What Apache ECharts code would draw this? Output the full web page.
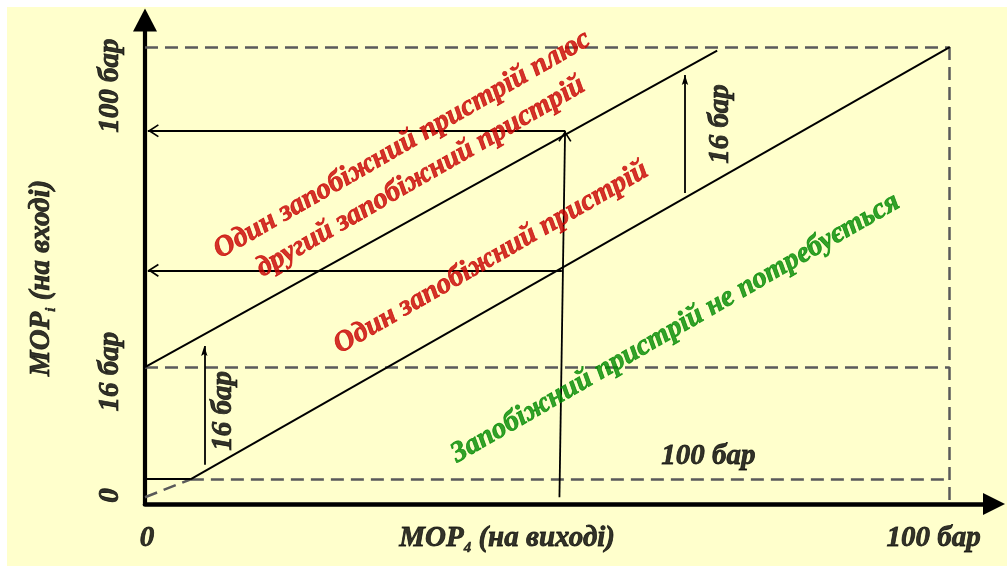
<!DOCTYPE html>
<html>
<head>
<meta charset="utf-8">
<script src="https://cdn.jsdelivr.net/npm/echarts@6/dist/echarts.min.js"></script>
<style>
html,body{margin:0;padding:0;background:#ffffff;}
#main{width:1007px;height:571px;}
</style>
</head>
<body>
<div id="main"></div>
<script>
// ---------- data (schematic units, 100 = 100 бар) ----------
const maxInletLine   = [[0, 100], [100, 100]];
const maxOutletLine  = [[100, 100], [100, -1.5]];
const level16Line    = [[0, 28.9], [100, 28.9]];
const lowLineSolid   = [[0, 4.0], [5.7, 4.0]];
const lowLineDashed  = [[5.7, 4.0], [100, 4.0]];
const originDashed   = [[0, 0], [5.7, 4.0]];
const lowerBoundary  = [[5.7, 4.0], [100, 100]];
const upperBoundary  = [[0, 28.9], [71.1, 99.2]];
const readoutUp      = [[51.5, 0], [52.2, 81.4]];
const readoutHigh    = [[52.2, 81.4], [0.35, 81.4]];
const readoutMid     = [[51.8, 50.4], [0.35, 50.4]];
const step16Right    = [[67.1, 67.6], [67.1, 93.8]];
const step16Left     = [[7.37, 7.2], [7.37, 33.6]];

const yTickLabels = ['0', '16 бар', '100 бар'];
const yTickAt     = [[-4.3, 0.4], [-4.3, 27.9], [-4.3, 91.4]];
const xTickLabels = ['0', '100 бар'];
const xTickAt     = [[0.25, -9.15], [98.0, -9.15]];
const stepLabels  = ['16 бар', '16 бар', '100 бар'];
const stepLabelAt = [[9.8, 19.2], [71.5, 82.9], [70.0, 9.06]];
const xTitle   = '{m|MOP}{s|4}{m| (на виході)}';
const xTitleAt = [45.0, -9.15];
const yTitle   = '{m|MOP}{s|i}{m| (на вході)}';
const yTitleAt = [-12.8, 48.7];
const zoneLabels  = ['Один запобіжний пристрій плюс\nдругий запобіжний пристрій',
                     'Один запобіжний пристрій',
                     'Запобіжний пристрій не потребується'];
const zoneLabelAt = [[33.1, 74.7], [43.0, 53.2], [65.9, 37.6]];

// ---------- styles ----------
const FONT = "'Liberation Serif','Times New Roman',serif";
const DASH = {color: '#5a5a5a', width: 2.5, type: [13, 7]};
const SOLID = {color: '#000', width: 2, type: 'solid'};
const THIN = {color: '#000', width: 1.8, type: 'solid'};
// symbols: tip at the centre of the bounding box so the tip sits on the line end
const CHEVRON = 'path://M0,0 L0.01,0 Z M22,22 L21.99,22 Z M11,11 L17.6,21.3 L16.2,22.2 L11,14.2 L5.8,22.2 L4.4,21.3 Z';
const NEEDLE  = 'path://M0,0 L0.01,0 Z M20,20 L19.99,20 Z M10,10 L13.2,20 L10,18 L6.8,20 Z';

function seg(coords, style, sym, size) {
  return {
    type: 'lines', coordinateSystem: 'cartesian2d', silent: true, animation: false, z: 3,
    symbol: sym ? ['none', sym] : ['none', 'none'],
    symbolSize: sym ? [0, size] : 0,
    lineStyle: Object.assign({opacity: 1, curveness: 0}, style),
    data: [{coords: coords}]
  };
}

function textSeries(points, texts, labelOpt) {
  const col = (labelOpt && labelOpt.color) || '#000';
  return {
    type: 'scatter', silent: true, animation: false, clip: false, z: 6,
    symbolSize: 1, itemStyle: {color: 'rgba(0,0,0,0)'},
    data: points.map((p, i) => ({value: p, name: texts[i]})),
    label: Object.assign({
      show: true, position: 'inside', formatter: '{b}',
      fontFamily: FONT, fontWeight: 'bold', fontStyle: 'italic', fontSize: 29,
      color: col, textBorderColor: col, textBorderWidth: 0.8,
      align: 'center', verticalAlign: 'middle'
    }, labelOpt)
  };
}

const richTitle = {
  m: {fontFamily: FONT, fontWeight: 'bold', fontStyle: 'italic', fontSize: 29, color: '#000',
      textBorderColor: '#000', textBorderWidth: 0.8, lineHeight: 34},
  s: {fontFamily: FONT, fontWeight: 'bold', fontStyle: 'italic', fontSize: 15, color: '#000',
      textBorderColor: '#000', textBorderWidth: 0.5, lineHeight: 14, verticalAlign: 'bottom'}
};

const chart = echarts.init(document.getElementById('main'), null, {renderer: 'canvas'});
chart.setOption({
  animation: false,
  backgroundColor: '#ffffff',
  graphic: [{type: 'rect', z: -100, silent: true, shape: {x: 7, y: 7, width: 1000, height: 559}, style: {fill: '#FFFFCC'}}],
  grid: {left: 145, right: 13, top: 20, bottom: 67, outerBoundsMode: 'none', containLabel: false},
  xAxis: {
    type: 'value', min: 0, max: 105.5,
    axisLine: {show: true, onZero: false, symbol: ['none', 'triangle'], symbolSize: [22, 22],
      lineStyle: {color: '#000', width: 4.5}},
    axisTick: {show: false}, axisLabel: {show: false}, splitLine: {show: false}
  },
  yAxis: {
    type: 'value', min: -1.5, max: 106,
    axisLine: {show: true, onZero: false, symbol: ['none', 'triangle'], symbolSize: [24, 23],
      lineStyle: {color: '#000', width: 4.2, cap: 'square'}},
    axisTick: {show: false}, axisLabel: {show: false}, splitLine: {show: false}
  },
  series: [
    seg(maxInletLine, DASH),
    seg(maxOutletLine, DASH),
    seg(level16Line, DASH),
    seg(lowLineDashed, DASH),
    seg(originDashed, DASH),
    seg(lowLineSolid, SOLID),
    seg(lowerBoundary, SOLID),
    seg(upperBoundary, SOLID),
    seg(readoutUp, THIN, CHEVRON, 22),
    seg(readoutHigh, THIN, CHEVRON, 22),
    seg(readoutMid, THIN, CHEVRON, 22),
    seg(step16Right, THIN, NEEDLE, 20),
    seg(step16Left, THIN, NEEDLE, 20),
    textSeries(yTickAt, yTickLabels, {rotate: 90}),
    textSeries(xTickAt, xTickLabels, {}),
    textSeries([stepLabelAt[0], stepLabelAt[1]], [stepLabels[0], stepLabels[1]], {rotate: 90}),
    textSeries([stepLabelAt[2]], [stepLabels[2]], {}),
    textSeries([xTitleAt], [xTitle], {formatter: xTitle, rich: richTitle}),
    textSeries([yTitleAt], [yTitle], {formatter: yTitle, rich: richTitle, rotate: 90}),
    textSeries([zoneLabelAt[0], zoneLabelAt[1]], [zoneLabels[0], zoneLabels[1]], {rotate: 30, color: '#C80000', lineHeight: 37}),
    textSeries([zoneLabelAt[2]], [zoneLabels[2]], {rotate: 30, color: '#008A00'})
  ]
});
</script>
</body>
</html>
